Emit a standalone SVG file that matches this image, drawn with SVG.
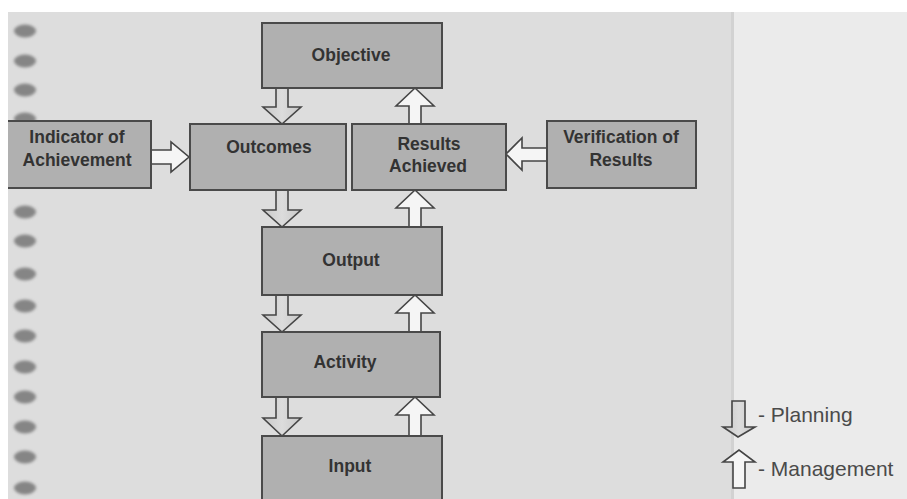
<svg xmlns="http://www.w3.org/2000/svg" width="907" height="499" viewBox="0 0 907 499">
<defs>
<style>
.box{fill:#b0b0b0;stroke:#4a4a4a;stroke-width:2}
.lbl{font-family:"Liberation Sans",Arial,sans-serif;font-weight:bold;font-size:17.5px;fill:#333;text-anchor:middle}
.leg{font-family:"Liberation Sans",Arial,sans-serif;font-size:21px;fill:#4a4a4a}
.dn{fill:url(#gdn);stroke:#454545;stroke-width:1.6;stroke-linejoin:miter}
.up{fill:#f5f5f5;stroke:#454545;stroke-width:1.6;stroke-linejoin:miter}
.dot{fill:#858585;filter:url(#blur)}
</style>
<linearGradient id="gdn" x1="0" y1="0" x2="1" y2="0">
<stop offset="0" stop-color="#c8c8c8"/>
<stop offset="0.5" stop-color="#dcdcdc"/>
<stop offset="1" stop-color="#c8c8c8"/>
</linearGradient>
<filter id="blur" x="-50%" y="-50%" width="200%" height="200%"><feGaussianBlur stdDeviation="1.6"/></filter>
</defs>
<rect x="0" y="0" width="907" height="499" fill="#ffffff"/>
<rect x="8" y="12" width="726" height="487" fill="#dddddd"/>
<rect x="734" y="12" width="173" height="487" fill="#ebebeb"/>
<rect x="731" y="12" width="3" height="487" fill="#d2d2d2"/>
<g id="dots">
<ellipse class="dot" cx="25" cy="31" rx="11" ry="6.5"/>
<ellipse class="dot" cx="25" cy="61" rx="11" ry="6.5"/>
<ellipse class="dot" cx="25" cy="90" rx="11" ry="6.5"/>
<ellipse class="dot" cx="25" cy="119" rx="11" ry="6.5"/>
<ellipse class="dot" cx="25" cy="212" rx="11" ry="6.5"/>
<ellipse class="dot" cx="25" cy="241" rx="11" ry="6.5"/>
<ellipse class="dot" cx="25" cy="274" rx="11" ry="6.5"/>
<ellipse class="dot" cx="25" cy="306" rx="11" ry="6.5"/>
<ellipse class="dot" cx="25" cy="336" rx="11" ry="6.5"/>
<ellipse class="dot" cx="25" cy="367" rx="11" ry="6.5"/>
<ellipse class="dot" cx="25" cy="397" rx="11" ry="6.5"/>
<ellipse class="dot" cx="25" cy="427" rx="11" ry="6.5"/>
<ellipse class="dot" cx="25" cy="457" rx="11" ry="6.5"/>
<ellipse class="dot" cx="25" cy="488" rx="11" ry="6.5"/>
</g>
<g id="connectors">
<path class="dn" d="M276,88 L288,88 L288,107 L301,107 L282,124 L263,107 L276,107 Z"/>
<path class="dn" d="M276,190 L288,190 L288,210 L301,210 L282,227 L263,210 L276,210 Z"/>
<path class="dn" d="M276,295 L288,295 L288,315 L301,315 L282,332 L263,315 L276,315 Z"/>
<path class="dn" d="M276,397 L288,397 L288,418 L301,418 L282,436 L263,418 L276,418 Z"/>
<path class="up" d="M409,124 L409,106 L396,106 L415,88 L434,106 L421,106 L421,124 Z"/>
<path class="up" d="M409,227 L409,208 L396,208 L415,190 L434,208 L421,208 L421,227 Z"/>
<path class="up" d="M409,332 L409,313 L396,313 L415,295 L434,313 L421,313 L421,332 Z"/>
<path class="up" d="M409,436 L409,415 L396,415 L415,397 L434,415 L421,415 L421,436 Z"/>
<path class="up" d="M151,150 L171,150 L171,142 L189,157 L171,172 L171,164 L151,164 Z"/>
<path class="up" d="M547,148 L522,148 L522,138 L506,154 L522,170 L522,161 L547,161 Z"/>
</g>
<g id="objective"><rect class="box" x="262" y="23" width="180" height="65"/><text class="lbl" x="351" y="61">Objective</text></g>
<g id="outcomes"><rect class="box" x="190" y="124" width="156" height="66"/><text class="lbl" x="269" y="153">Outcomes</text></g>
<g id="results-achieved"><rect class="box" x="352" y="124" width="154" height="66"/><text class="lbl" x="429" y="150">Results</text><text class="lbl" x="428" y="172">Achieved</text></g>
<g id="indicator"><rect class="box" x="-2" y="121" width="153" height="67"/><text class="lbl" x="77" y="143">Indicator of</text><text class="lbl" x="77" y="166">Achievement</text></g>
<g id="verification"><rect class="box" x="547" y="121" width="149" height="67"/><text class="lbl" x="621" y="143">Verification of</text><text class="lbl" x="621" y="166">Results</text></g>
<g id="output"><rect class="box" x="262" y="227" width="180" height="68"/><text class="lbl" x="351" y="266">Output</text></g>
<g id="activity"><rect class="box" x="262" y="332" width="178" height="65"/><text class="lbl" x="345" y="368">Activity</text></g>
<g id="input"><rect class="box" x="262" y="436" width="180" height="70"/><text class="lbl" x="350" y="472">Input</text></g>
<rect x="0" y="0" width="8" height="499" fill="#ffffff"/>
<rect x="0" y="0" width="907" height="12" fill="#ffffff"/>
<g id="legend">
<path class="dn" d="M732,401 L745,401 L745,427 L755,427 L738,437 L723,427 L732,427 Z"/>
<text class="leg" x="758" y="422">- Planning</text>
<path class="up" d="M733,488 L733,462 L723,462 L739,450 L755,462 L745,462 L745,488 Z"/>
<text class="leg" x="758" y="476">- Management</text>
</g>
</svg>
